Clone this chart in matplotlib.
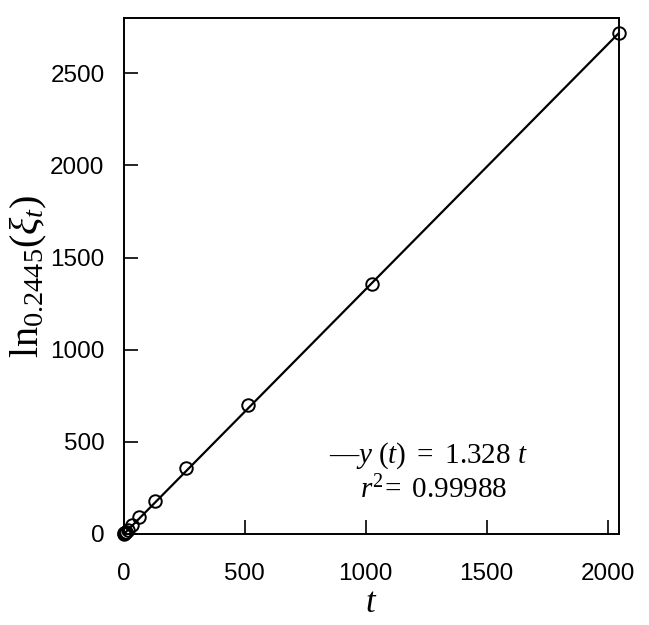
import matplotlib
matplotlib.use("Agg")
import matplotlib.pyplot as plt
import numpy as np

t_values = [1, 2, 4, 8, 16, 32, 64, 128, 256, 512, 1024, 2048]
ln_values = [1.5, 2.9, 5.6, 11.2, 23, 47, 90, 178, 356, 698, 1357, 2716]
slope = 1.328
r2 = 0.99988
x_ticks = [0, 500, 1000, 1500, 2000]
y_ticks = [0, 500, 1000, 1500, 2000, 2500]

plt.rcParams['mathtext.fontset'] = 'custom'
plt.rcParams['mathtext.rm'] = 'Liberation Serif'
plt.rcParams['mathtext.it'] = 'Liberation Serif:italic'

fig = plt.figure(figsize=(6.49, 6.25), dpi=100)
ax = fig.add_axes([0.191, 0.1456, 0.763, 0.8256])

ax.plot(t_values, ln_values, linestyle='none', marker='o', markersize=9,
        markerfacecolor='none', markeredgecolor='black', markeredgewidth=1.4,
        clip_on=False, zorder=3)
fit_t = np.array([0, t_values[-1]])
ax.plot(fit_t, slope * fit_t, color='black', linewidth=1.6)

ax.set_xlim(0, 2048)
ax.set_ylim(0, 2800)
ax.set_xticks(x_ticks)
ax.set_yticks(y_ticks)
ax.tick_params(direction='in', length=10, width=1.2, labelsize=17.5)
ax.tick_params(axis='x', pad=21)
ax.tick_params(axis='y', pad=14)
for lab in ax.get_xticklabels() + ax.get_yticklabels():
    lab.set_fontfamily('Liberation Sans')
for s in ax.spines.values():
    s.set_linewidth(1.4)

ax.set_xlabel(r'$t$', fontsize=25, labelpad=0)
ax.set_ylabel(r'$\mathrm{ln}_{0.2445}(\xi_t)$', fontsize=29, labelpad=1)

ax.text(0.414, 0.151, r'$\mathrm{—}y\ (t)\ =\ %s\ t$' % f"{slope:.3f}", transform=ax.transAxes,
        fontsize=21, ha='left', va='center')
ax.text(0.477, 0.085, r'$r^{2}\!=\ %s$' % f"{r2:.5f}", transform=ax.transAxes,
        fontsize=21, ha='left', va='center')

fig.savefig('out.png', dpi=100)
